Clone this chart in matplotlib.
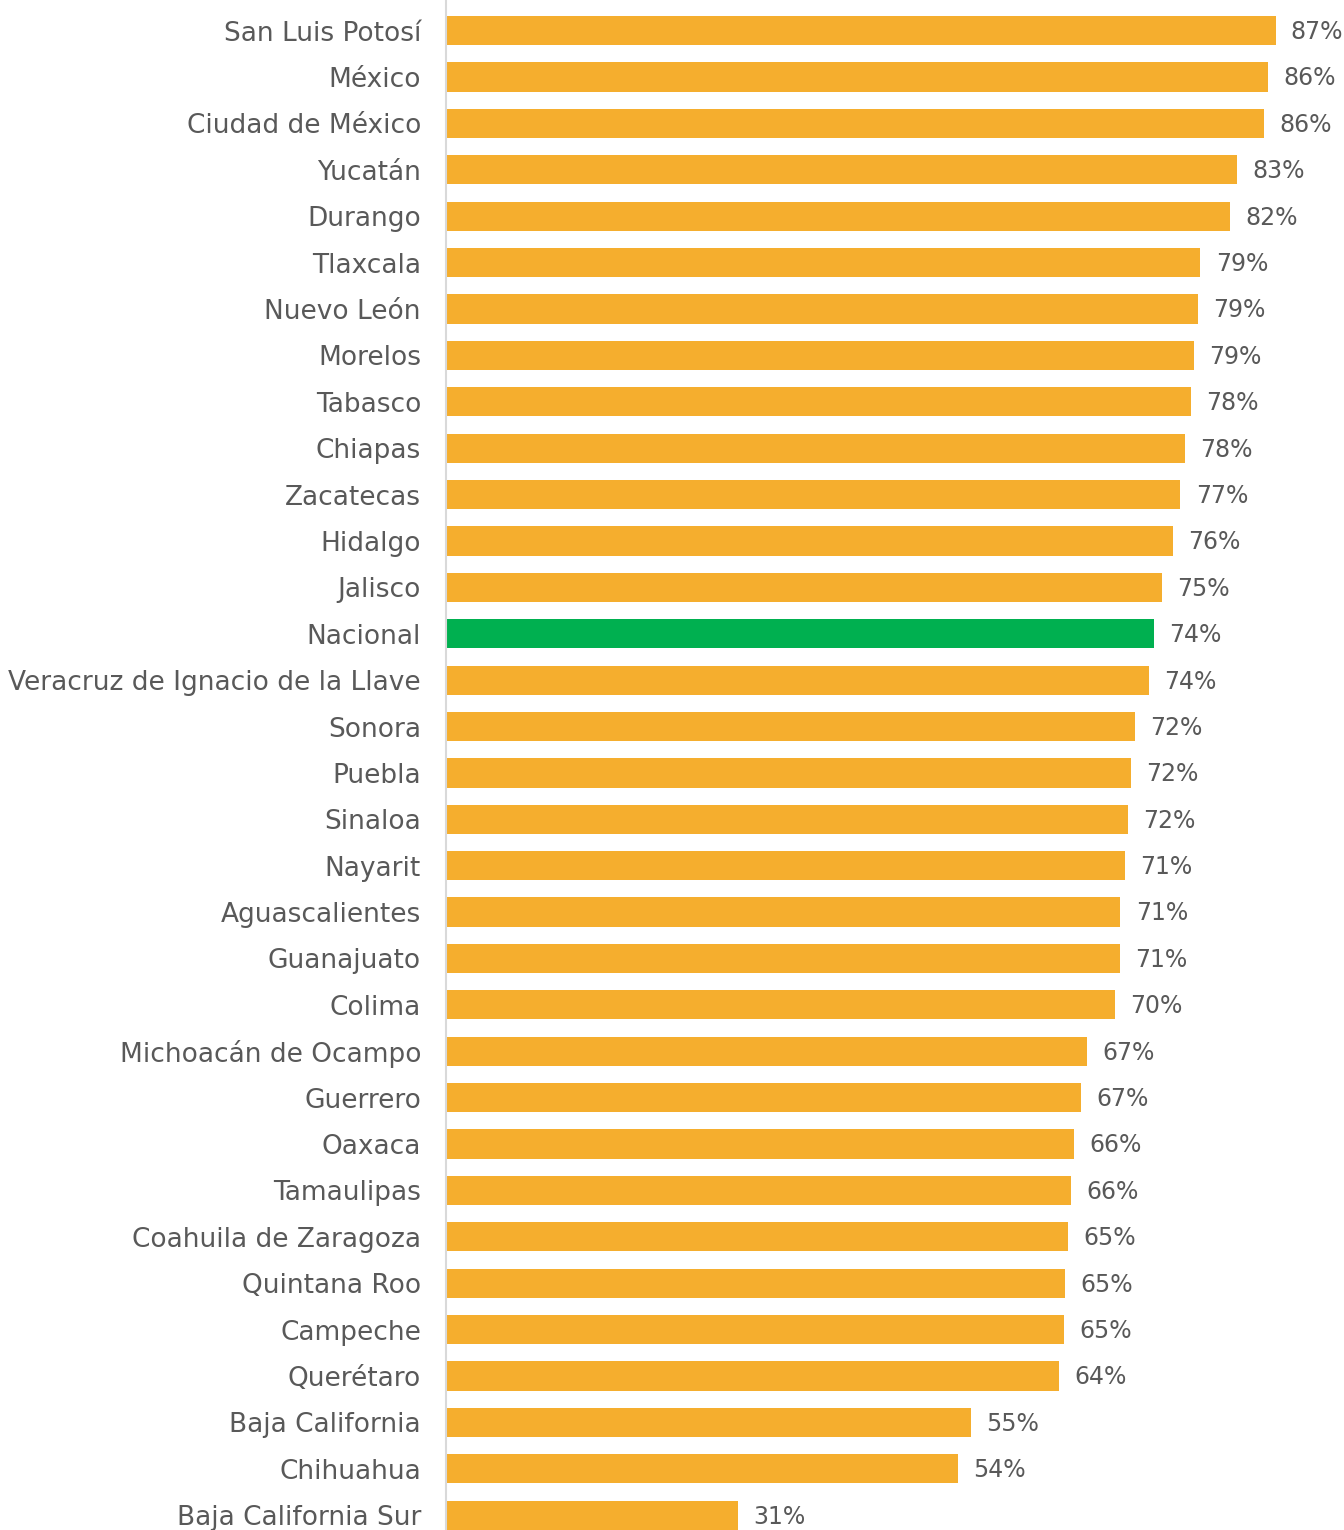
import matplotlib
matplotlib.use('Agg')
import matplotlib.pyplot as plt
import numpy as np

# Data (percent)
states = [
    'San Luis Potosí', 'México', 'Ciudad de México', 'Yucatán', 'Durango',
    'Tlaxcala', 'Nuevo León', 'Morelos', 'Tabasco', 'Chiapas', 'Zacatecas',
    'Hidalgo', 'Jalisco', 'Nacional', 'Veracruz de Ignacio de la Llave',
    'Sonora', 'Puebla', 'Sinaloa', 'Nayarit', 'Aguascalientes', 'Guanajuato',
    'Colima', 'Michoacán de Ocampo', 'Guerrero', 'Oaxaca', 'Tamaulipas',
    'Coahuila de Zaragoza', 'Quintana Roo', 'Campeche', 'Querétaro',
    'Baja California', 'Chihuahua', 'Baja California Sur',
]
values = [
    87.2, 86.4, 86.0, 83.2, 82.4,
    79.3, 79.0, 78.6, 78.3, 77.7, 77.2,
    76.4, 75.3, 74.4, 73.9,
    72.4, 72.0, 71.7, 71.4, 70.9, 70.8,
    70.3, 67.4, 66.8, 66.0, 65.7,
    65.4, 65.1, 65.0, 64.4,
    55.2, 53.8, 30.7,
]
highlight = 'Nacional'

orange = '#F5AE2E'
green = '#00B050'
text_color = '#595959'

plt.rcParams['font.family'] = ['DejaVu Sans']

fig = plt.figure(figsize=(13.44, 15.3), dpi=100)
ax = fig.add_axes([446 / 1344, 0, 1 - 446 / 1344, 1])

y = np.arange(len(states))
colors = [green if s == highlight else orange for s in states]
bars = ax.barh(y, values, height=0.63, color=colors)

for bar, v in zip(bars, values):
    ax.annotate(f'{round(v)}%', xy=(bar.get_width(), bar.get_y() + bar.get_height() / 2),
                xytext=(11, -1), textcoords='offset points', va='center', ha='left',
                fontsize=17, color=text_color)

ax.set_yticks(y)
ax.set_yticklabels(states, fontsize=19, color=text_color)
ax.tick_params(axis='y', length=0, pad=18)
ax.set_xticks([])
ax.set_xlim(0, 94.4)
ax.set_ylim(32.32, -0.662)

for side in ['top', 'right', 'bottom']:
    ax.spines[side].set_visible(False)
ax.spines['left'].set_color('#D9D9D9')
ax.spines['left'].set_linewidth(1.5)

fig.savefig('out.png', dpi=100)
